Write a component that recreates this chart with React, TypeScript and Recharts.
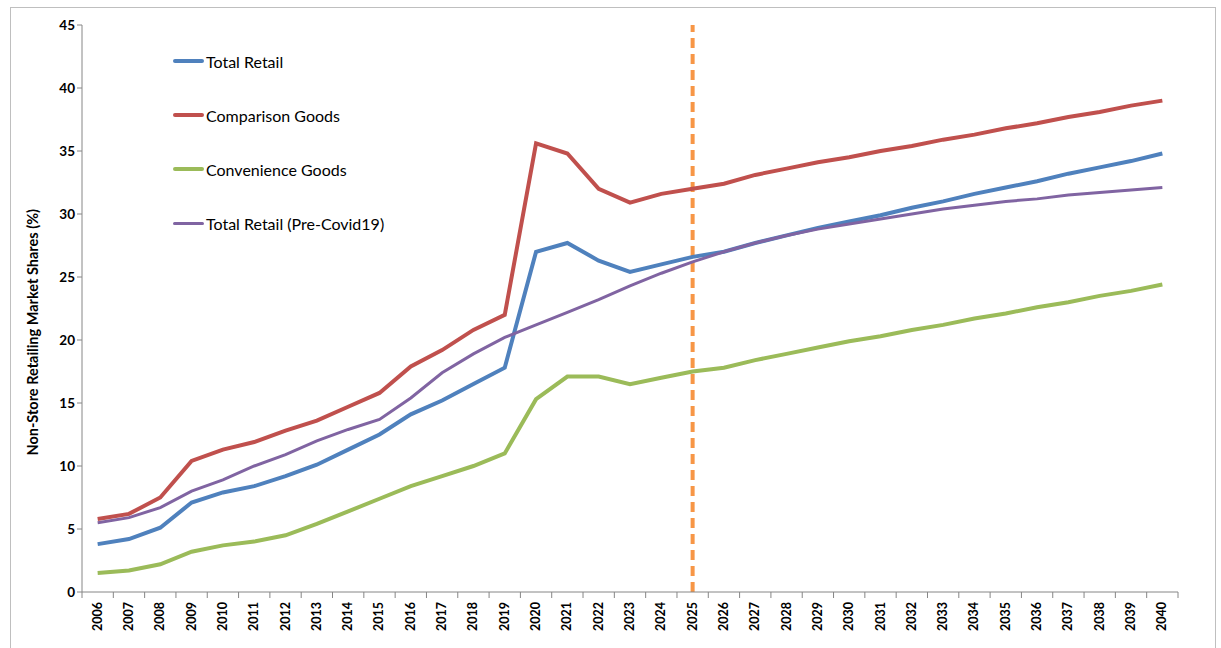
import { LineChart, Line, XAxis, YAxis, ReferenceLine } from "recharts";

const years = [
  "2006", "2007", "2008", "2009", "2010", "2011", "2012", "2013", "2014", "2015",
  "2016", "2017", "2018", "2019", "2020", "2021", "2022", "2023", "2024", "2025",
  "2026", "2027", "2028", "2029", "2030", "2031", "2032", "2033", "2034", "2035",
  "2036", "2037", "2038", "2039", "2040",
];

const totalRetail = [
  3.8, 4.2, 5.1, 7.1, 7.9, 8.4, 9.2, 10.1, 11.3, 12.5,
  14.1, 15.2, 16.5, 17.8, 27.0, 27.7, 26.3, 25.4, 26.0, 26.6,
  27.0, 27.7, 28.3, 28.9, 29.4, 29.9, 30.5, 31.0, 31.6, 32.1,
  32.6, 33.2, 33.7, 34.2, 34.8,
];

const comparisonGoods = [
  5.8, 6.2, 7.5, 10.4, 11.3, 11.9, 12.8, 13.6, 14.7, 15.8,
  17.9, 19.2, 20.8, 22.0, 35.6, 34.8, 32.0, 30.9, 31.6, 32.0,
  32.4, 33.1, 33.6, 34.1, 34.5, 35.0, 35.4, 35.9, 36.3, 36.8,
  37.2, 37.7, 38.1, 38.6, 39.0,
];

const convenienceGoods = [
  1.5, 1.7, 2.2, 3.2, 3.7, 4.0, 4.5, 5.4, 6.4, 7.4,
  8.4, 9.2, 10.0, 11.0, 15.3, 17.1, 17.1, 16.5, 17.0, 17.5,
  17.8, 18.4, 18.9, 19.4, 19.9, 20.3, 20.8, 21.2, 21.7, 22.1,
  22.6, 23.0, 23.5, 23.9, 24.4,
];

const preCovid = [
  5.5, 5.9, 6.7, 8.0, 8.9, 10.0, 10.9, 12.0, 12.9, 13.7,
  15.4, 17.4, 18.9, 20.2, 21.2, 22.2, 23.2, 24.3, 25.3, 26.2,
  27.0, 27.7, 28.3, 28.8, 29.2, 29.6, 30.0, 30.4, 30.7, 31.0,
  31.2, 31.5, 31.7, 31.9, 32.1,
];

const yTicks = [0, 5, 10, 15, 20, 25, 30, 35, 40, 45];
const forecastStart = "2025";

const series = [
  { key: "total", name: "Total Retail", color: "#4F81BD", width: 4 },
  { key: "comparison", name: "Comparison Goods", color: "#C0504D", width: 4 },
  { key: "convenience", name: "Convenience Goods", color: "#9BBB59", width: 4 },
  { key: "precovid", name: "Total Retail (Pre-Covid19)", color: "#8064A2", width: 3 },
];

const data = years.map((y, i) => ({
  year: y,
  total: totalRetail[i],
  comparison: comparisonGoods[i],
  convenience: convenienceGoods[i],
  precovid: preCovid[i],
}));

const FONT = "Lato, 'Open Sans', sans-serif";
const AXIS = "#868686";

const W = 1221;
const H = 648;
const M = { top: 25, right: 43, left: 32, bottom: 6 };
const BAND = (W - M.left - 50 - M.right) / years.length;

// x labels are rotated and tick marks sit between the categories
function YearTick(props: any) {
  const { x, y, payload, index } = props;
  const last = index === years.length - 1;
  return (
    <g>
      <line x1={x - BAND / 2} y1={y - 8} x2={x - BAND / 2} y2={y - 2} stroke={AXIS} />
      {last && <line x1={x + BAND / 2} y1={y - 8} x2={x + BAND / 2} y2={y - 2} stroke={AXIS} />}
      <text
        x={x + 4}
        y={y + 2}
        transform={`rotate(-90, ${x + 4}, ${y + 2})`}
        textAnchor="end"
        fontSize={12.5}
        fontWeight="bold"
        fontFamily={FONT}
        fill="#000"
      >
        {payload.value}
      </text>
    </g>
  );
}

function LegendBox() {
  return (
    <div style={{ position: "absolute", left: 173, top: 34 }}>
      {series.map((s) => (
        <div key={s.key} style={{ display: "flex", alignItems: "center", height: 54 }}>
          <div style={{ width: 31, height: s.width, background: s.color, borderRadius: 2 }} />
          <span style={{ fontFamily: FONT, fontSize: 16, color: "#000", marginLeft: 2 }}>{s.name}</span>
        </div>
      ))}
    </div>
  );
}

export default function App() {
  return (
    <div style={{ position: "absolute", left: 0, top: 0, width: W, height: H, background: "#fff", overflow: "hidden" }}>
      <div
        style={{
          position: "absolute",
          left: 10,
          top: 7,
          width: 1206,
          height: 660,
          border: "1px solid #BFBFBF",
          boxSizing: "border-box",
        }}
      />
      <LineChart width={W} height={H} data={data} margin={M}>
        <XAxis
          dataKey="year"
          interval={0}
          stroke={AXIS}
          tickLine={false}
          tick={<YearTick />}
          height={50}
          padding={{ left: BAND / 2, right: BAND / 2 }}
        />
        <YAxis
          domain={[0, 45]}
          ticks={yTicks}
          width={50}
          stroke={AXIS}
          tickSize={5}
          tick={{ fontSize: 13.5, fontWeight: "bold", fill: "#000", fontFamily: FONT }}
          label={{
            value: "Non-Store Retailing Market Shares (%)",
            angle: -90,
            position: "insideLeft",
            dx: -4,
            dy: 147,
            style: { fontSize: 14.5, fontWeight: "bold", fill: "#000", fontFamily: FONT },
          }}
        />
        <ReferenceLine
          x={forecastStart}
          stroke="#F79646"
          strokeWidth={4}
          strokeDasharray="10 6"
        />
        {series.map((s) => (
          <Line
            key={s.key}
            type="linear"
            dataKey={s.key}
            name={s.name}
            stroke={s.color}
            strokeWidth={s.width}
            dot={false}
            isAnimationActive={false}
          />
        ))}
      </LineChart>
      <LegendBox />
    </div>
  );
}
